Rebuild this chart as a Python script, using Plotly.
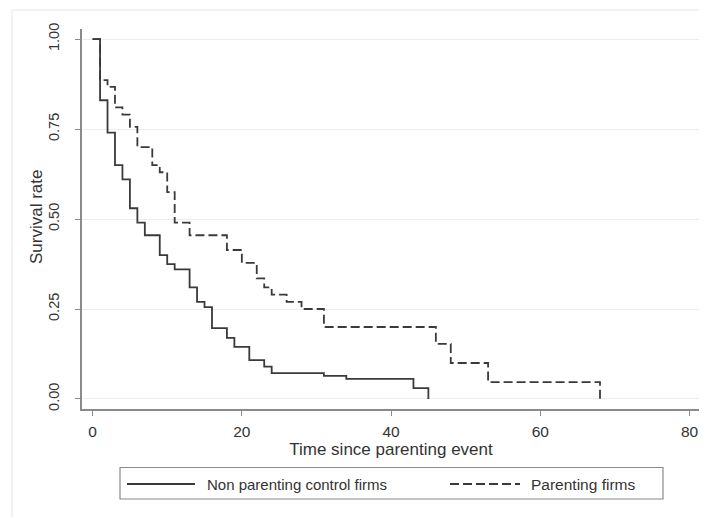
import plotly.graph_objects as go

# Kaplan-Meier style survival estimates
control_t = [0, 1, 2, 3, 4, 5, 6, 7, 9, 10, 11, 13, 14, 15, 16, 18, 19, 21, 23, 24, 31, 34, 43, 45]
control_s = [1.0, 0.83, 0.74, 0.65, 0.61, 0.53, 0.49, 0.455, 0.40, 0.375, 0.36, 0.31, 0.27, 0.255,
             0.197, 0.17, 0.145, 0.108, 0.09, 0.072, 0.064, 0.056, 0.03, 0.0]

parent_t = [0, 1, 2, 3, 4, 5, 6, 8, 9, 10, 11, 13, 18, 20, 22, 23, 24, 26, 28, 31, 46, 48, 53, 68]
parent_s = [1.0, 0.886, 0.867, 0.81, 0.79, 0.756, 0.70, 0.65, 0.63, 0.575, 0.49, 0.455, 0.414, 0.378,
            0.335, 0.31, 0.29, 0.27, 0.25, 0.2, 0.153, 0.1, 0.047, 0.0]

x_ticks = [0, 20, 40, 60, 80]
y_ticks = [0, 0.25, 0.5, 0.75, 1.0]
y_tick_labels = ["0.00", "0.25", "0.50", "0.75", "1.00"]

series_names = ["Non parenting control firms", "Parenting firms"]
x_title = "Time since parenting event"
y_title = "Survival rate"

FONT = "Liberation Sans, Arial, sans-serif"
TEXT = "#333333"
LINE = "#3a3a3a"
DASH = "9px,4px"

# the page body has an 8px default margin, so the figure is drawn 8px in from the window edge
OFF = 8
W, H = 707 - OFF, 517 - OFF
L, R, T, B = 82 - OFF, 7, 29 - OFF, 108
PW, PH = W - L - R, H - T - B


def px(xp):
    """window pixel x -> paper coordinate"""
    return (xp - OFF - L) / PW


def py(yp):
    """window pixel y -> paper coordinate"""
    return (H - B - (yp - OFF)) / PH


fig = go.Figure()
fig.add_trace(go.Scatter(x=control_t, y=control_s, mode="lines", name=series_names[0],
                         line=dict(shape="hv", color=LINE, width=1.8), showlegend=False))
fig.add_trace(go.Scatter(x=parent_t, y=parent_s, mode="lines", name=series_names[1],
                         line=dict(shape="hv", color=LINE, width=1.8, dash=DASH), showlegend=False))

shapes = [
    # faint outer graph-region frame
    dict(type="line", xref="paper", yref="paper", x0=px(12), x1=px(707), y0=py(10), y1=py(10),
         line=dict(color="#eeeeee", width=1.5), layer="below"),
    dict(type="line", xref="paper", yref="paper", x0=px(12), x1=px(12), y0=py(10), y1=py(517),
         line=dict(color="#eeeeee", width=1.5), layer="below"),
    # legend box
    dict(type="rect", xref="paper", yref="paper", x0=px(120), x1=px(663), y0=py(499), y1=py(467.5),
         line=dict(color="#8a8a8a", width=1.2), fillcolor="white"),
    # legend keys
    dict(type="line", xref="paper", yref="paper", x0=px(127), x1=px(195), y0=py(484), y1=py(484),
         line=dict(color=LINE, width=1.8)),
    dict(type="line", xref="paper", yref="paper", x0=px(450), x1=px(520), y0=py(484), y1=py(484),
         line=dict(color=LINE, width=1.8, dash=DASH)),
]

annotations = [
    dict(text=series_names[0], xref="paper", yref="paper", x=px(205), y=py(484),
         xanchor="left", yanchor="middle", showarrow=False, font=dict(size=15, color=TEXT)),
    dict(text=series_names[1], xref="paper", yref="paper", x=px(529), y=py(484),
         xanchor="left", yanchor="middle", showarrow=False, font=dict(size=15.5, color=TEXT)),
    # y-axis title
    dict(text=y_title, xref="paper", yref="paper", x=px(36), y=py(217), textangle=-90,
         xanchor="center", yanchor="middle", showarrow=False, font=dict(size=17, color=TEXT)),
]

fig.update_layout(
    width=W, height=H,
    margin=dict(l=L, r=R, t=T, b=B),
    paper_bgcolor="white", plot_bgcolor="white",
    font=dict(family=FONT, size=15, color=TEXT),
    showlegend=False,
    shapes=shapes,
    annotations=annotations,
    xaxis=dict(range=[-1.42, 81.4], tickvals=x_ticks, showgrid=False, zeroline=False,
               showline=True, linecolor="#8a8a8a", linewidth=1.5, automargin=False,
               ticks="outside", ticklen=5, tickcolor="#8a8a8a", ticklabelstandoff=3,
               tickfont=dict(size=15.5),
               title=dict(text=x_title, standoff=1, font=dict(size=17))),
    yaxis=dict(range=[-0.0278, 1.028], tickvals=y_ticks, ticktext=y_tick_labels, tickangle=-90,
               showgrid=True, gridcolor="#ececec", gridwidth=1, zeroline=False,
               showline=True, linecolor="#8a8a8a", linewidth=1.5, automargin=False,
               ticks="outside", ticklen=5, tickcolor="#8a8a8a", ticklabelstandoff=10,
               tickfont=dict(size=14.5)),
)

fig.write_html("out.html")
